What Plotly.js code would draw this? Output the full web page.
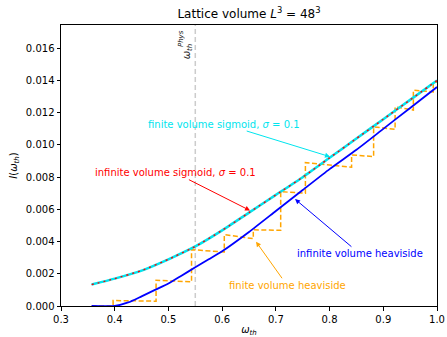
<!DOCTYPE html>
<html>
<head>
<meta charset="utf-8">
<script src="https://cdn.plot.ly/plotly-3.0.1.min.js"></script>
<style>
  html, body { margin: 0; padding: 0; background: #fff; }
  #chart { width: 447px; height: 337px; }
</style>
</head>
<body>
<div id="chart"></div>
<script>
// Smooth sigmoid curves (finite and infinite volume coincide)
const omegaSigmoid = [0.357, 0.40, 0.45, 0.50, 0.55, 0.60, 0.65, 0.70, 0.75, 0.80, 0.85, 0.90, 0.95, 1.00];
const sigmoidFinite = [0.00133, 0.0017, 0.0022, 0.0029, 0.0037, 0.0047, 0.0058, 0.0069, 0.0080, 0.0092, 0.0104, 0.0116, 0.0128, 0.0140];
const sigmoidInfinite = [0.00133, 0.0017, 0.0022, 0.0029, 0.0037, 0.0047, 0.0058, 0.0069, 0.0080, 0.0092, 0.0104, 0.0116, 0.0128, 0.0140];

// Infinite volume heaviside
const omegaHeaviside = [0.357, 0.40, 0.425, 0.45, 0.475, 0.50, 0.525, 0.55, 0.575, 0.60, 0.65, 0.70, 0.75, 0.80, 0.85, 0.90, 0.95, 1.00];
const heavisideInfinite = [0, 0, 0.00022, 0.0006, 0.001, 0.0014, 0.0019, 0.0024, 0.0029, 0.0034, 0.0046, 0.0059, 0.0072, 0.0085, 0.0097, 0.0110, 0.0123, 0.0136];

// Finite volume heaviside: plateau edges and the value at the start / end of each plateau
const stepEdges = [0.357, 0.397, 0.477, 0.543, 0.604, 0.658, 0.709, 0.755, 0.841, 0.882, 0.922, 0.956, 0.993, 1.0];
const plateauStart = [0, 0.00034, 0.0016, 0.0035, 0.00443, 0.00473, 0.0071, 0.0089, 0.00938, 0.01113, 0.01237, 0.0134, 0.0139];
const plateauEnd   = [0, 0.0003, 0.0015, 0.00335, 0.00418, 0.0047, 0.0070, 0.00862, 0.00928, 0.01097, 0.01217, 0.0133, 0.0139];

const omegaPhys = 0.55;

const xTicks = [0.3, 0.4, 0.5, 0.6, 0.7, 0.8, 0.9, 1.0];
const yTicks = [0, 0.002, 0.004, 0.006, 0.008, 0.010, 0.012, 0.014, 0.016];

// build staircase path
const fvX = [], fvY = [];
for (let i = 0; i < plateauStart.length; i++) {
  fvX.push(stepEdges[i], stepEdges[i + 1]);
  fvY.push(plateauStart[i], plateauEnd[i]);
}

const FONT = 'DejaVu Sans, Liberation Sans, sans-serif';

const traces = [
  { x: fvX, y: fvY, mode: 'lines', name: 'finite volume heaviside',
    line: { color: '#FFA500', width: 1.5, dash: '5px,2.5px' } },
  { x: omegaHeaviside, y: heavisideInfinite, mode: 'lines', name: 'infinite volume heaviside',
    line: { color: '#0000FF', width: 1.8, shape: 'spline', smoothing: 0.6 } },
  { x: omegaSigmoid, y: sigmoidFinite, mode: 'lines', name: 'finite volume sigmoid',
    line: { color: '#00E5EE', width: 2.5, shape: 'spline', smoothing: 0.6 } },
  { x: omegaSigmoid, y: sigmoidInfinite, mode: 'lines', name: 'infinite volume sigmoid',
    line: { color: '#FF0000', width: 1.4, dash: '2px,4px', shape: 'spline', smoothing: 0.6 } }
];

// text placed at (tx, ty) with an arrow pointing to (hx, hy)
function pointer(text, tx, ty, hx, hy, color) {
  return { text: text, x: hx, y: hy, ax: tx, ay: ty, xref: 'x', yref: 'y', axref: 'x', ayref: 'y',
           showarrow: true, arrowhead: 2, arrowsize: 1, arrowwidth: 1, arrowcolor: color,
           standoff: 0, startstandoff: 0,
           font: { family: FONT, size: 10, color: color } };
}

const annotations = [
  pointer('finite volume sigmoid, <i>σ</i> = 0.1', 0.6035, 0.0113, 0.8008, 0.00927, '#00E5EE'),
  pointer('infinite volume sigmoid, <i>σ</i> = 0.1', 0.5123, 0.00828, 0.6519, 0.00593, '#FF0000'),
  pointer('infinite volume heaviside', 0.8561, 0.00325, 0.7357, 0.00664, '#0000FF'),
  pointer('finite volume heaviside', 0.7208, 0.00129, 0.6631, 0.00399, '#FFA500'),
  // physical threshold label, rotated
  { text: '<i>ω</i>', x: 0.5327, y: 0.01557, xref: 'x', yref: 'y', showarrow: false, textangle: -90,
    font: { family: FONT, size: 10, color: '#222' }, xanchor: 'center', yanchor: 'middle' },
  { text: '<i>th</i>', x: 0.5405, y: 0.01603, xref: 'x', yref: 'y', showarrow: false, textangle: -90,
    font: { family: FONT, size: 7, color: '#222' }, xanchor: 'center', yanchor: 'middle' },
  { text: '<i>Phys</i>', x: 0.5247, y: 0.01662, xref: 'x', yref: 'y', showarrow: false, textangle: -90,
    font: { family: FONT, size: 7, color: '#222' }, xanchor: 'center', yanchor: 'middle' }
];

const layout = {
  width: 447, height: 337,
  margin: { l: 61, r: 10, t: 25, b: 31 },
  paper_bgcolor: '#fff', plot_bgcolor: '#fff',
  showlegend: false,
  font: { family: FONT, size: 10, color: '#000' },
  title: { text: 'Lattice volume <i>L</i><sup>3</sup> = 48<sup>3</sup>', x: 0.5, xref: 'paper',
           y: 1 - 14 / 337, yref: 'container', yanchor: 'middle', xanchor: 'center',
           font: { family: FONT, size: 12, color: '#000' } },
  xaxis: {
    range: [0.3, 1.0], tickvals: xTicks, ticktext: xTicks.map(v => v.toFixed(1)),
    showgrid: false, zeroline: false, showline: true, mirror: true, linecolor: '#000', linewidth: 1,
    ticks: 'outside', ticklen: 3.5, tickwidth: 1, tickcolor: '#000',
    tickfont: { family: FONT, size: 10, color: '#000' },
    title: { text: '<i>ω</i><sub><i>th</i></sub>', standoff: 4, font: { family: FONT, size: 10, color: '#000' } },
    automargin: false
  },
  yaxis: {
    range: [0, 0.01745], tickvals: yTicks, ticktext: yTicks.map(v => v.toFixed(3)),
    showgrid: false, zeroline: false, showline: true, mirror: true, linecolor: '#000', linewidth: 1,
    ticks: 'outside', ticklen: 3.5, tickwidth: 1, tickcolor: '#000',
    tickfont: { family: FONT, size: 10, color: '#000' },
    title: { text: '<i>I</i>(<i>ω</i><sub><i>th</i></sub>)', standoff: 6, font: { family: FONT, size: 10, color: '#000' } },
    automargin: false
  },
  shapes: [
    { type: 'line', xref: 'x', yref: 'paper', x0: omegaPhys, x1: omegaPhys, y0: 0, y1: 1,
      line: { color: '#CCCCCC', width: 1.5, dash: '5px,3px' }, layer: 'below' }
  ],
  annotations: annotations
};

Plotly.newPlot('chart', traces, layout, { displayModeBar: false, staticPlot: true });
</script>
</body>
</html>
